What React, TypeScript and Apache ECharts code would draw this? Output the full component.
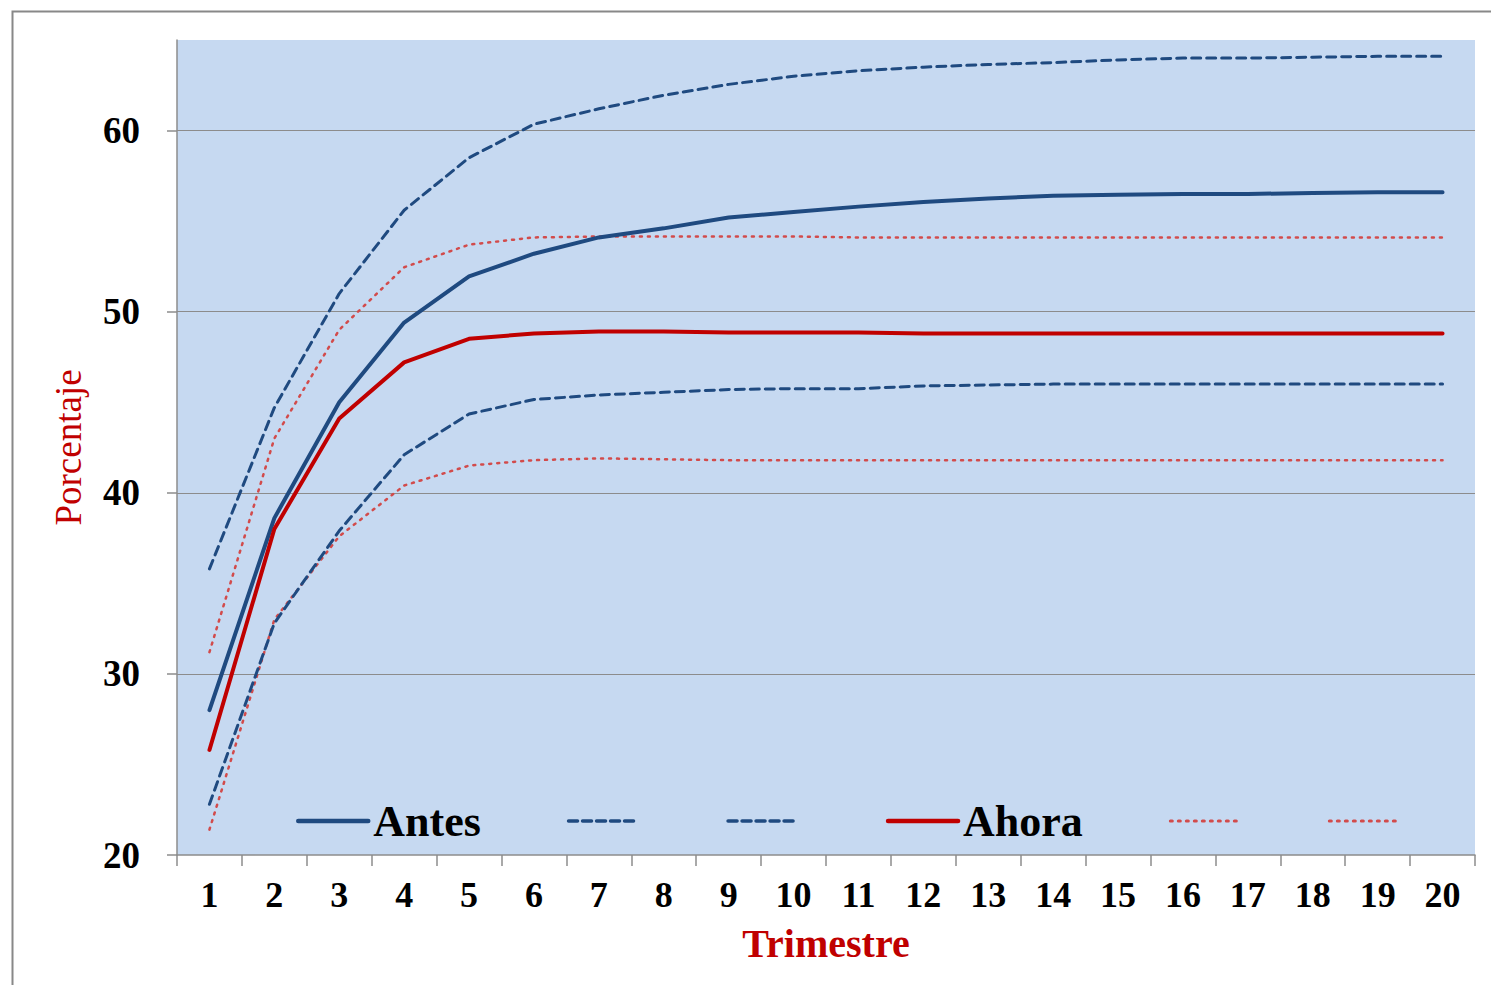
import React, { useEffect, useRef } from "react";
import * as echarts from "echarts";

const categories = ["1","2","3","4","5","6","7","8","9","10","11","12","13","14","15","16","17","18","19","20"];
const antes = [28.0,38.6,45.0,49.4,51.95,53.2,54.1,54.6,55.2,55.5,55.8,56.05,56.25,56.4,56.45,56.5,56.5,56.55,56.6,56.6];
const antesSup = [35.8,44.7,51.0,55.6,58.5,60.35,61.2,61.95,62.55,63.0,63.3,63.5,63.65,63.75,63.9,64.0,64.0,64.05,64.1,64.1];
const antesInf = [22.8,32.8,37.9,42.1,44.35,45.15,45.4,45.55,45.7,45.75,45.75,45.9,45.95,46.0,46.0,46.0,46.0,46.0,46.0,46.0];
const ahora = [25.8,38.0,44.1,47.2,48.5,48.8,48.9,48.9,48.85,48.85,48.85,48.8,48.8,48.8,48.8,48.8,48.8,48.8,48.8,48.8];
const ahoraSup = [31.2,43.0,49.0,52.45,53.7,54.1,54.15,54.15,54.15,54.15,54.1,54.1,54.1,54.1,54.1,54.1,54.1,54.1,54.1,54.1];
const ahoraInf = [21.4,33.0,37.6,40.4,41.5,41.8,41.9,41.85,41.8,41.8,41.8,41.8,41.8,41.8,41.8,41.8,41.8,41.8,41.8,41.8];
const yTicks = [20, 30, 40, 50, 60];

const BLUE = "#1F4A80";
const RED = "#C00000";
const RED_DOT = "#D24B4B";
const FONT = "'Liberation Serif', 'DejaVu Serif', serif";

export default function App() {
  const ref = useRef<HTMLDivElement>(null);
  useEffect(() => {
    document.body.style.margin = "0";
    const chart = echarts.init(ref.current!, null, { renderer: "svg" });
    const mk = (name: string, data: number[], color: string, type: any, width: number, z: number) => ({
      name,
      type: "line",
      data,
      symbol: "none",
      showSymbol: false,
      z,
      lineStyle: { color, type, width, cap: "round" },
      itemStyle: { color },
    });
    const leg = (name: string, color: string, type: any, width: number) => ({
      name,
      itemStyle: { opacity: 0 },
      lineStyle: { color, type, width, cap: "round" },
    });
    chart.setOption({
      animation: false,
      backgroundColor: "#ffffff",
      textStyle: { fontFamily: FONT },
      graphic: [
        {
          type: "rect",
          left: 10,
          top: 9,
          shape: { x: 0, y: 0, width: 1500, height: 1000 },
          style: { fill: "none", stroke: "#888888", lineWidth: 2 },
          z: -10,
          silent: true,
        },
      ],
      grid: {
        left: 177,
        right: 16,
        top: 40,
        bottom: 130,
        show: true,
        backgroundColor: "#C6D9F1",
        borderWidth: 0,
      },
      legend: {
        left: 291,
        top: 794,
        itemWidth: 70,
        itemHeight: 14,
        itemGap: 86,
        itemStyle: { opacity: 0 },
        formatter: (n: string) => (n === "Antes" || n === "Ahora" ? n : ""),
        textStyle: { fontFamily: FONT, fontWeight: "bold", fontSize: 44, color: "#000" },
        data: [
          leg("Antes", BLUE, "solid", 4.5),
          leg("Antes sup", BLUE, [9, 5], 3.5),
          leg("Antes inf", BLUE, [9, 5], 3.5),
          leg("Ahora", RED, "solid", 4.5),
          leg("Ahora sup", RED_DOT, [2, 6], 3),
          leg("Ahora inf", RED_DOT, [2, 6], 3),
        ],
      },
      xAxis: {
        type: "category",
        data: categories,
        boundaryGap: true,
        name: "Trimestre",
        nameLocation: "middle",
        nameGap: 68,
        nameTextStyle: { color: RED, fontFamily: FONT, fontWeight: "bold", fontSize: 40 },
        axisLine: { lineStyle: { color: "#8c8c8c", width: 1.5 } },
        axisTick: { show: true, length: 11, alignWithLabel: false, lineStyle: { color: "#8c8c8c", width: 1.5 } },
        axisLabel: { color: "#000", fontFamily: FONT, fontWeight: "bold", fontSize: 36, margin: 22, interval: 0 },
        splitLine: { show: false },
      },
      yAxis: {
        type: "value",
        min: 20,
        max: 65,
        interval: 10,
        name: "Porcentaje",
        nameLocation: "middle",
        nameGap: 90,
        nameTextStyle: { color: RED, fontFamily: FONT, fontSize: 37 },
        axisLine: { show: true, lineStyle: { color: "#8c8c8c", width: 1.5 } },
        axisTick: { show: true, length: 10, customValues: yTicks, lineStyle: { color: "#8c8c8c", width: 1.5 } },
        axisLabel: {
          color: "#000",
          fontFamily: FONT,
          fontWeight: "bold",
          fontSize: 37,
          margin: 37,
          customValues: yTicks,
        },
        splitLine: { show: true, showMinLine: false, lineStyle: { color: "#8c8c8c", width: 1 } },
      },
      series: [
        mk("Antes", antes, BLUE, "solid", 4, 5),
        mk("Antes sup", antesSup, BLUE, [9, 6], 3, 4),
        mk("Antes inf", antesInf, BLUE, [9, 6], 3, 4),
        mk("Ahora", ahora, RED, "solid", 4, 6),
        mk("Ahora sup", ahoraSup, RED_DOT, [2, 6], 2.5, 3),
        mk("Ahora inf", ahoraInf, RED_DOT, [2, 6], 2.5, 3),
      ],
    });
    return () => chart.dispose();
  }, []);
  return <div ref={ref} style={{ width: 1491, height: 985 }} />;
}
